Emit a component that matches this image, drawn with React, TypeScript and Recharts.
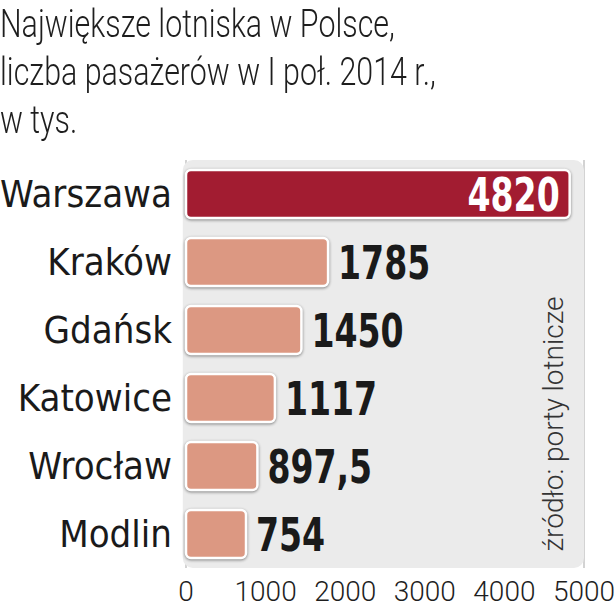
import { Bar, BarChart, CartesianGrid, Cell, LabelList, ReferenceArea, XAxis, YAxis } from 'recharts';

const cities = ['Warszawa', 'Kraków', 'Gdańsk', 'Katowice', 'Wrocław', 'Modlin'];
const passengers = [4820, 1785, 1450, 1117, 897.5, 754];
const axisTicks = [0, 1000, 2000, 3000, 4000, 5000];
const titleLines = ['Największe lotniska w Polsce,', 'liczba pasażerów w I poł. 2014 r.,', 'w tys.'];
const sourceNote = 'źródło: porty lotnicze';

const data = cities.map((city, i) => ({ city, value: passengers[i] }));

const LIGHT = 'Roboto, sans-serif';
const NARROW = '"DejaVu Sans Condensed", sans-serif';

const BarShape = (props: any) => {
  const { x, y, width, height, fill } = props;
  return (
    <rect
      x={x}
      y={y}
      width={width}
      height={height}
      rx={5}
      fill={fill}
      stroke="#fff"
      strokeWidth={2.5}
      style={{ filter: 'drop-shadow(0px 1px 1.5px rgba(0,0,0,0.45))' }}
    />
  );
};

// values in a squeezed bold face, white inside the long bar
const ValueLabel = (props: any) => {
  const { x, y, width, height, value, index } = props;
  const text = String(value).replace('.', ',');
  const inside = index === 0;
  const tx = inside ? x + width - 10 : x + width + 10;
  return (
    <text
      transform={`translate(${tx},${y + height / 2}) scale(0.8,1)`}
      dy="0.36em"
      textAnchor={inside ? 'end' : 'start'}
      fill={inside ? '#fff' : '#1a1a1a'}
      fontFamily={NARROW}
      fontWeight={700}
      fontSize={46}
    >
      {text}
    </text>
  );
};

export default function App() {
  return (
    <div style={{ position: 'absolute', left: 0, top: 0, width: 614, height: 608, background: '#fff' }}>
      <div
        style={{
          position: 'absolute',
          left: 0,
          top: 0,
          fontFamily: LIGHT,
          fontWeight: 300,
          fontSize: 38,
          lineHeight: '48px',
          color: '#1e1e1e',
          whiteSpace: 'nowrap',
          transform: 'scaleX(0.8)',
          transformOrigin: 'left top',
        }}
      >
        {titleLines.map((line) => (
          <div key={line}>{line}</div>
        ))}
      </div>
      <BarChart
        width={614}
        height={608}
        data={data}
        layout="vertical"
        margin={{ top: 160, right: 30, bottom: 0, left: 0 }}
        barSize={48}
      >
        <ReferenceArea x1={-40} x2={5000} fill="#ebebeb" fillOpacity={1} ifOverflow="visible" radius={10} />
        <CartesianGrid horizontal={false} stroke="#c4c4c4" strokeWidth={1.5} />
        <XAxis
          type="number"
          domain={[0, 5000]}
          ticks={axisTicks}
          axisLine={false}
          tickLine={false}
          tickSize={0}
          tickMargin={13}
          height={40}
          tick={{ fontSize: 28, fill: '#1e1e1e', fontFamily: LIGHT, fontWeight: 300 }}
        />
        <YAxis
          type="category"
          dataKey="city"
          width={186}
          axisLine={false}
          tickLine={false}
          tickSize={0}
          tickMargin={14}
          tick={{ fontSize: 38, fill: '#1a1a1a', fontFamily: '"DejaVu Sans Condensed", sans-serif' }}
        />
        <Bar dataKey="value" isAnimationActive={false} shape={BarShape}>
          {data.map((d, i) => (
            <Cell key={d.city} fill={i === 0 ? '#a21c31' : '#dc9882'} />
          ))}
          <LabelList dataKey="value" content={ValueLabel} />
        </Bar>
      </BarChart>
      <div
        style={{
          position: 'absolute',
          left: 553,
          top: 424,
          fontFamily: LIGHT,
          fontWeight: 300,
          fontSize: 28,
          color: '#333',
          whiteSpace: 'nowrap',
          transform: 'translate(-50%, -50%) rotate(-90deg)',
        }}
      >
        {sourceNote}
      </div>
    </div>
  );
}
